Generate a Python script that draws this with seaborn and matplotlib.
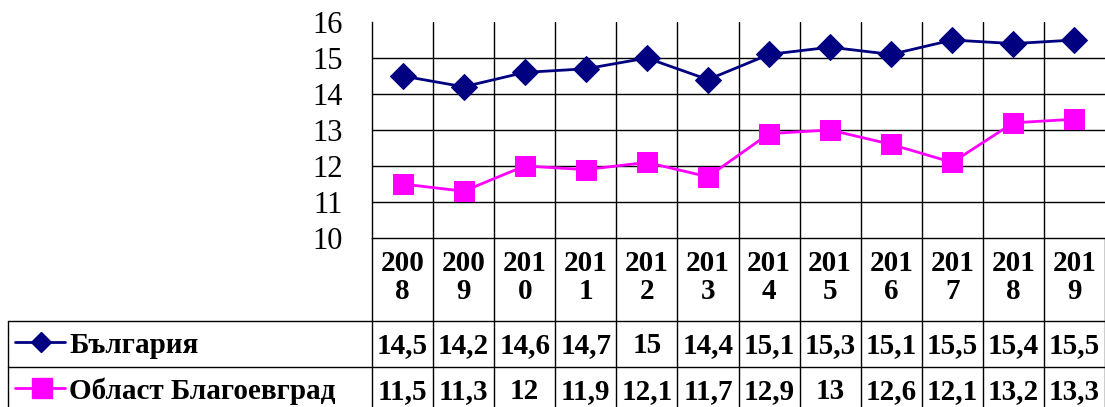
import numpy as np
import pandas as pd
import matplotlib
matplotlib.use("Agg")
import matplotlib.pyplot as plt
import matplotlib.transforms as mtransforms
import seaborn as sns

years = ["2008", "2009", "2010", "2011", "2012", "2013",
         "2014", "2015", "2016", "2017", "2018", "2019"]
bulgaria = [14.5, 14.2, 14.6, 14.7, 15, 14.4, 15.1, 15.3, 15.1, 15.5, 15.4, 15.5]
blagoevgrad = [11.5, 11.3, 12, 11.9, 12.1, 11.7, 12.9, 13, 12.6, 12.1, 13.2, 13.3]
names = ["България", "Област Благоевград"]
clr_bg = "#000080"
clr_bl = "#FF00FF"

sns.set_style("white")
plt.rcParams['font.family'] = ['Liberation Serif', 'DejaVu Serif']
plt.rcParams['text.color'] = 'black'
plt.rcParams['ytick.color'] = 'black'
plt.rcParams['ytick.labelcolor'] = 'black'

W, H = 1105, 407
fig = plt.figure(figsize=(W / 100, H / 100), dpi=100)
fig.set_facecolor('white')

# plot area in pixel terms: x 372..1105, y 22..238
ax = fig.add_axes([372 / W, (H - 238) / H, (W - 372) / W, 216 / H])
df = pd.DataFrame({"year": years, "bg": bulgaria, "bl": blagoevgrad})
sns.lineplot(data=df, x="year", y="bg", ax=ax, color=clr_bg, lw=2,
             marker="D", markersize=13, markeredgecolor=clr_bg)
sns.lineplot(data=df, x="year", y="bl", ax=ax, color=clr_bl, lw=2,
             marker="s", markersize=15, markeredgecolor=clr_bl)

ax.set_xlim(-0.5, len(years) - 0.5)
ax.set_ylim(10, 16)
ax.set_yticks(np.arange(10, 17, 1))
ax.set_yticklabels([str(v) for v in range(10, 17)], fontsize=22, color="black")
ax.set_xticks([])
ax.set_xlabel("")
ax.set_ylabel("")
ax.tick_params(axis='y', direction='out', length=7, width=1, color='black', pad=14)
for s in ["top", "right"]:
    ax.spines[s].set_visible(False)
ax.spines["left"].set_color("black")
ax.spines["bottom"].set_color("black")
ax.spines["left"].set_linewidth(1)
ax.spines["bottom"].set_linewidth(1)
for v in range(11, 16):
    ax.axhline(v, color="black", lw=1, zorder=0)
for k in range(1, len(years)):
    ax.axvline(k - 0.5, color="black", lw=1, zorder=0)
ax.set_facecolor('white')
if ax.get_legend():
    ax.get_legend().remove()

# data table below the plot, y in pixel coords
ax_t = fig.add_axes([0, (H - 418) / H, 1, 180 / H])
ax_t.set_xlim(0, W)
ax_t.set_ylim(418, 238)
ax_t.axis('off')
tr = mtransforms.blended_transform_factory(ax.transData, ax_t.transData)

row_top, row_mid = 321, 367
for k in range(len(years) + 1):
    ax_t.plot([k - 0.5, k - 0.5], [238, 418], color="black", lw=1,
              transform=tr, clip_on=False)
ax_t.plot([8, 8], [row_top, 418], color="black", lw=1, clip_on=False)
for yy in [row_top, row_mid]:
    ax_t.plot([8, W], [yy, yy], color="black", lw=1, clip_on=False)

fs = 21
for i, y in enumerate(years):
    ax_t.text(i, 271, y[:3], transform=tr, ha="center", va="baseline",
              fontsize=fs, fontweight="bold", color="black")
    ax_t.text(i, 299, y[3:], transform=tr, ha="center", va="baseline",
              fontsize=fs, fontweight="bold", color="black")


def fmt(v):
    return f"{v:g}".replace(".", ",")


for i in range(len(years)):
    ax_t.text(i, 353, fmt(bulgaria[i]), transform=tr, ha="center", va="baseline",
              fontsize=fs, fontweight="bold", color="black")
    ax_t.text(i, 399, fmt(blagoevgrad[i]), transform=tr, ha="center", va="baseline",
              fontsize=fs, fontweight="bold", color="black")

# legend keys inside the table
ax_t.plot([15, 65], [342, 342], color=clr_bg, lw=2, clip_on=False)
ax_t.plot([41], [342], marker="D", markersize=10, color=clr_bg, clip_on=False)
ax_t.plot([15, 65], [388, 388], color=clr_bl, lw=2, clip_on=False)
ax_t.plot([42], [388], marker="s", markersize=14, color=clr_bl, clip_on=False)
ax_t.text(69, 353, names[0], ha="left", va="baseline", fontsize=fs,
          fontweight="bold", color="black")
ax_t.text(69, 399, names[1], ha="left", va="baseline", fontsize=fs,
          fontweight="bold", color="black")

fig.savefig("out.png", dpi=100, facecolor='white')
